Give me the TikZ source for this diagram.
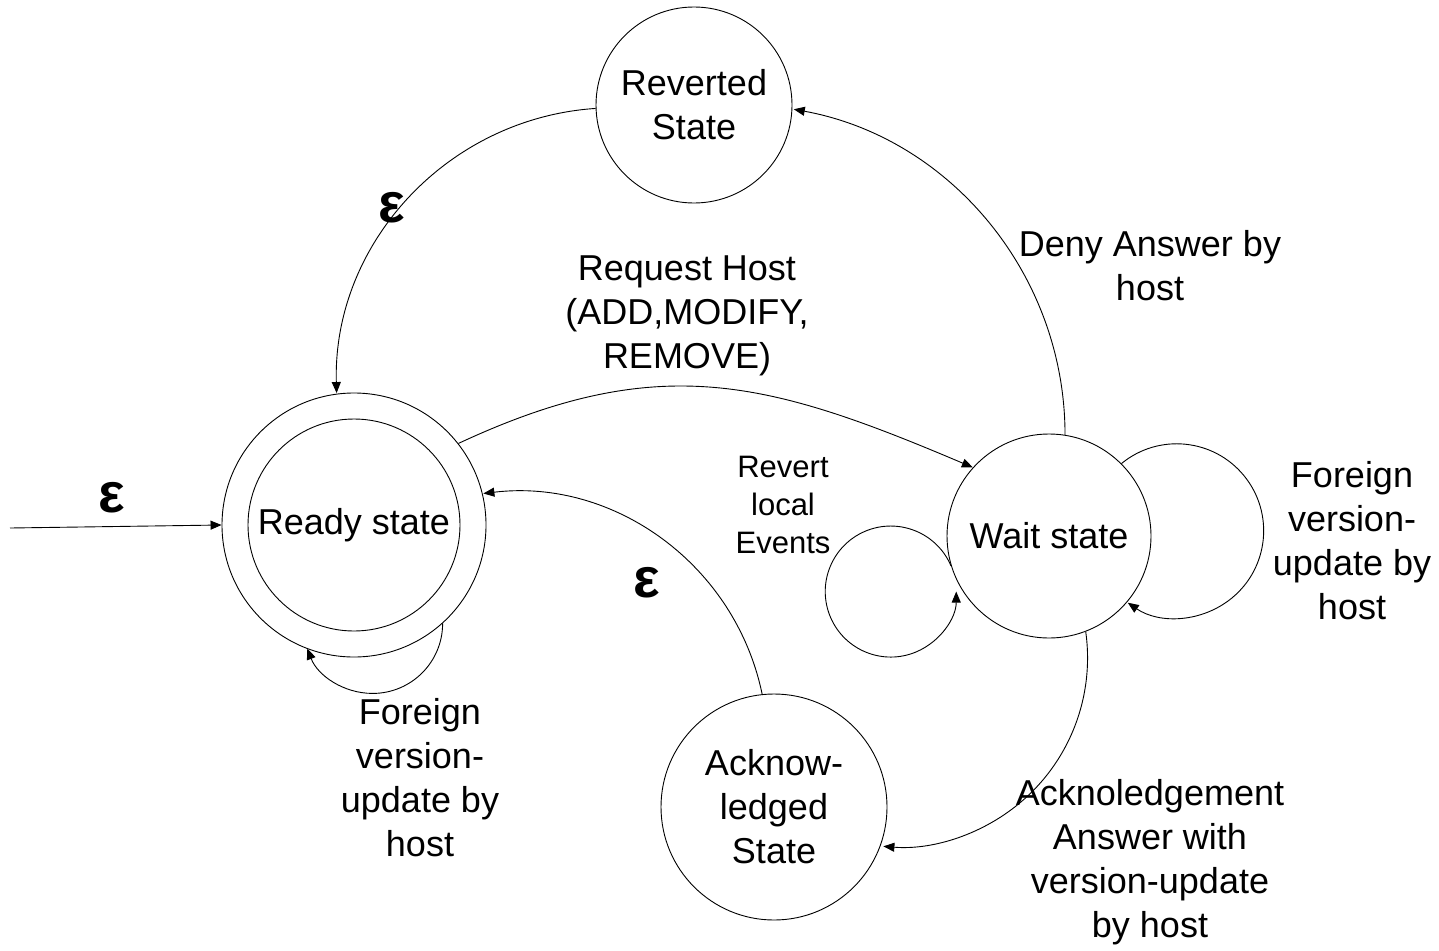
\documentclass[tikz,border=0pt]{standalone}
\usepackage{fontspec}
\setmainfont{Liberation Sans}
\usetikzlibrary{arrows.meta}
\begin{document}
\begin{tikzpicture}[x=1pt,y=1pt,
  stnode/.style={circle,draw,line width=0.9pt,inner sep=0pt,align=center,
    font=\fontsize{36}{44}\selectfont},
  lbl/.style={inner sep=0pt,align=center,font=\fontsize{36}{44}\selectfont},
  smalllbl/.style={inner sep=0pt,align=center,font=\fontsize{31}{38}\selectfont},
  eps/.style={inner sep=0pt,font=\fontsize{56}{56}\selectfont\bfseries},
  trans/.style={line width=0.9pt,-{Triangle[length=11pt,width=9pt]}}
]
\useasboundingbox (0,0) rectangle (1439,-950);

% states
\node[stnode,minimum size=196pt] (rev) at (694,-105) {Reverted\\State};
\node[stnode,minimum size=264pt] (ready) at (354,-525) {};
\node[stnode,minimum size=212pt] (readyin) at (354,-525) {Ready state};
\node[stnode,minimum size=204pt] (wait) at (1049,-536) {Wait state};
\node[stnode,minimum size=226pt] (ack) at (774,-807) {Acknow-\\ledged\\State};

% initial transition
\coordinate (init) at (10,-528);
\draw[trans] (init) -- (ready.west);

% transitions between states (circular arcs)
\draw[trans] (rev.182) arc[start angle=93.8,end angle=181.6,radius=277.5];
\draw[trans] (wait.81.5) arc[start angle=0,end angle=79.6,radius=331];
\draw[trans] (ready.38.3) to[out=25,in=157,looseness=1.1] (wait.138);
\draw[trans] (wait.-69) arc[start angle=8,end angle=-94.6,radius=189];
\draw[trans] (ack.96) arc[start angle=11.7,end angle=96.8,radius=254];

% self loops
\draw[trans] (ready.-48.7) arc[start angle=0,end angle=-159,radius=70];
\draw[trans] (wait.197.5) arc[start angle=23,end angle=360,radius=65.5];
\draw[trans] (wait.45) arc[start angle=129.4,end angle=-124.2,radius=87];

% labels
\node[eps] (e1) at (392,-208) {ε};
\node[eps] (e2) at (112,-498) {ε};
\node[eps] (e3) at (647,-583) {ε};
\node[lbl] (req) at (687,-316) {Request Host\\(ADD,MODIFY,\\REMOVE)};
\node[lbl] (deny) at (1150,-266) {Deny Answer by\\host};
\node[smalllbl] (revl) at (783,-505) {Revert\\local\\Events};
\node[lbl] (forr) at (1352,-541) {Foreign\\version-\\update by\\host};
\node[lbl] (forl) at (420,-778) {Foreign\\version-\\update by\\host};
\node[lbl] (ackl) at (1150,-862) {Acknoledgement\\Answer with\\version-update\\by host};
\end{tikzpicture}
\end{document}
